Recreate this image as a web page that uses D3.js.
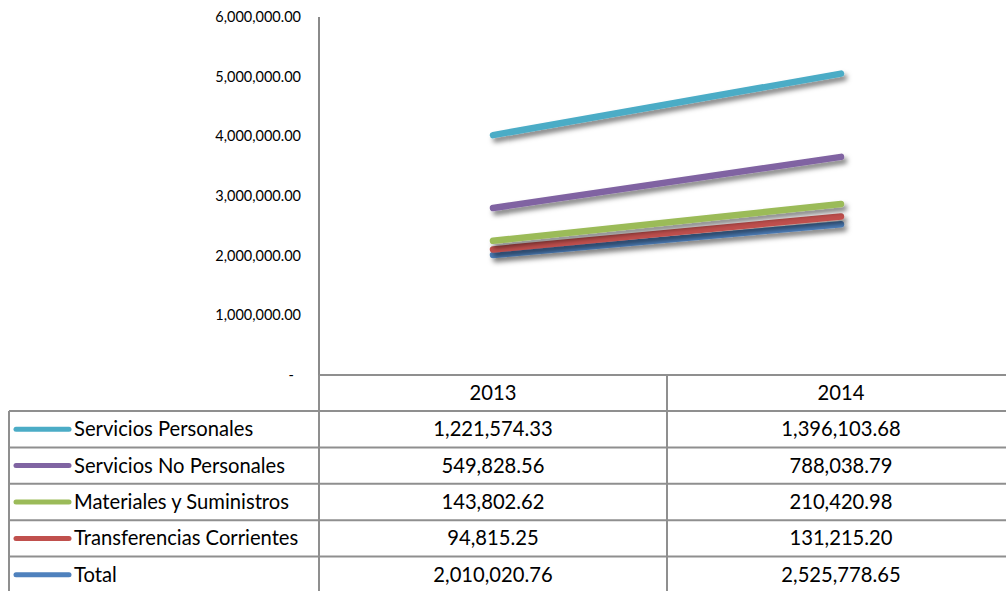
<!DOCTYPE html>
<html><head><meta charset="utf-8">
<script src="https://cdn.jsdelivr.net/npm/d3@7"></script>
<style>body{margin:0;background:#fff}svg{display:block}</style>
</head><body>
<svg id="c" width="1006" height="591"></svg>
<script>
const years = ["2013", "2014"];
const seriesNames = ["Servicios Personales", "Servicios No Personales", "Materiales y Suministros", "Transferencias Corrientes", "Total"];
const servPersonales = [1221574.33, 1396103.68];
const servNoPersonales = [549828.56, 788038.79];
const materiales = [143802.62, 210420.98];
const transferencias = [94815.25, 131215.20];
const total = [2010020.76, 2525778.65];
const colors = ["#4BACC6", "#8064A2", "#9BBB59", "#C0504D", "#4F81BD"];
const yTicks = [0, 1000000, 2000000, 3000000, 4000000, 5000000, 6000000];

const valuesBySeries = [servPersonales, servNoPersonales, materiales, transferencias, total];
const rows = years.map((y, i) => {
  const r = {year: y};
  seriesNames.forEach((s, k) => r[s] = valuesBySeries[k][i]);
  return r;
});
// stacked line: Total at bottom, Servicios Personales on top
const stackKeys = seriesNames.slice().reverse();
const stacked = d3.stack().keys(stackKeys)(rows);

const svg = d3.select("#c");
const font = "Lato, 'Open Sans', sans-serif";
const axisX = 319, col2X = 667, colW = 348;
const x = d3.scaleBand().domain(years).range([axisX, axisX + 2 * colW]);
const y = d3.scaleLinear().domain([0, 6000000]).range([375, 17]);

const defs = svg.append("defs");
const f = defs.append("filter").attr("id", "sh").attr("x", "-10%").attr("y", "-100%").attr("width", "130%").attr("height", "400%");
f.append("feDropShadow").attr("dx", 3).attr("dy", 4).attr("stdDeviation", 2.5).attr("flood-color", "#000").attr("flood-opacity", 0.5);

// y axis labels
svg.append("g").selectAll("text").data(yTicks).join("text")
  .attr("x", d => d === 0 ? 294 : 301)
  .attr("y", d => y(d) + 5)
  .attr("text-anchor", "end")
  .attr("font-family", font).attr("font-size", 14.5).attr("fill", "#000")
  .text(d => d === 0 ? "-" : d3.format(",.2f")(d));
svg.append("line").attr("x1", axisX).attr("x2", axisX).attr("y1", y(6000000)).attr("y2", y(0))
  .attr("stroke", "#8a8a8a").attr("stroke-width", 2);

// lines
const line = d3.line().x(d => x(d.data.year) + x.bandwidth() / 2).y(d => y(d[1]));
const layers = stacked.slice(); // bottom first
svg.append("g").selectAll("path").data(layers).join("path")
  .attr("d", d => line(d))
  .attr("fill", "none")
  .attr("stroke", d => colors[seriesNames.indexOf(d.key)])
  .attr("stroke-width", 6.5).attr("stroke-linecap", "round")
  .attr("filter", "url(#sh)");

// data table
const rowTop = 375, headH = 36, rowH = 36.4;
const tg = svg.append("g");
const gridC = "#8f8f8f";
const fs = 20.2;
// header
tg.append("line").attr("x1", axisX).attr("x2", 1006).attr("y1", rowTop).attr("y2", rowTop).attr("stroke", gridC).attr("stroke-width", 2);
tg.selectAll("text.yr").data(years).join("text").attr("class", "yr")
  .attr("x", d => x(d) + x.bandwidth() / 2).attr("y", rowTop + headH / 2 + 7)
  .attr("text-anchor", "middle").attr("font-family", font).attr("font-size", fs).text(d => d);
const bodyTop = rowTop + headH;
seriesNames.forEach((s, i) => {
  const yt = bodyTop + i * rowH;
  tg.append("line").attr("x1", 9).attr("x2", 1006).attr("y1", yt).attr("y2", yt).attr("stroke", gridC).attr("stroke-width", 2);
  tg.append("line").attr("x1", 16).attr("x2", 69).attr("y1", yt + rowH / 2).attr("y2", yt + rowH / 2)
    .attr("stroke", colors[i]).attr("stroke-width", 5).attr("stroke-linecap", "round");
  tg.append("text").attr("x", 74).attr("y", yt + rowH / 2 + 7)
    .attr("font-family", font).attr("font-size", fs).text(s);
  years.forEach((yr, j) => {
    tg.append("text").attr("x", x(yr) + x.bandwidth() / 2).attr("y", yt + rowH / 2 + 7)
      .attr("text-anchor", "middle").attr("font-family", font).attr("font-size", fs)
      .text(d3.format(",.2f")(valuesBySeries[i][j]));
  });
});
const bottom = bodyTop + seriesNames.length * rowH;
tg.append("line").attr("x1", 9).attr("x2", 1006).attr("y1", bottom).attr("y2", bottom).attr("stroke", gridC).attr("stroke-width", 2);
tg.append("line").attr("x1", 9).attr("x2", 9).attr("y1", bodyTop).attr("y2", bottom).attr("stroke", gridC).attr("stroke-width", 2);
[axisX, col2X].forEach(cx => tg.append("line").attr("x1", cx).attr("x2", cx).attr("y1", rowTop).attr("y2", bottom).attr("stroke", gridC).attr("stroke-width", 2));
</script>
</body></html>
